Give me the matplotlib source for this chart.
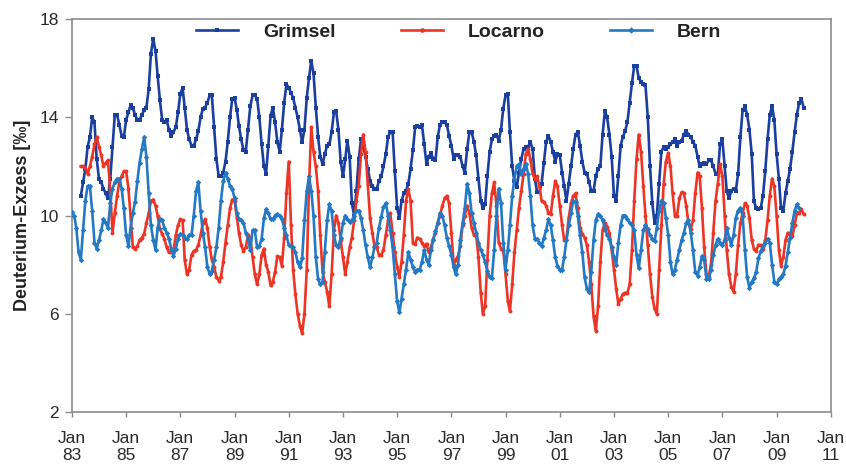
import matplotlib
matplotlib.use("Agg")
import matplotlib.pyplot as plt
import matplotlib.dates as mdates
import pandas as pd

plt.rcParams['font.family'] = ['Liberation Sans', 'DejaVu Sans']

series_names = ["Grimsel", "Locarno", "Bern"]

grimsel_start = "1983-05-01"
grimsel = [
    10.8, 11.35, 11.9, 12.8, 13.2, 14.0, 13.8, 12.3,
    11.5, 11.35, 11.1, 10.9, 10.7, 11.5, 12.8, 14.1, 14.1, 13.7, 13.25, 13.2,
    13.9, 14.2, 14.5, 14.4, 14.1, 13.9, 13.9, 14.1, 14.3, 14.4, 15.15, 16.6,
    17.2, 16.7, 15.7, 14.7, 13.9, 13.8, 13.9, 13.5, 13.25, 13.4, 13.6, 14.2,
    14.95, 15.2, 14.4, 13.5, 13.1, 12.85, 12.85, 13.1, 13.45, 14.0, 14.35, 14.4,
    14.6, 14.9, 14.9, 13.6, 12.3, 11.6, 11.6, 11.75, 12.2, 13.0, 14.0, 14.75,
    14.8, 14.3, 13.65, 13.1, 12.65, 12.6, 13.5, 14.45, 14.9, 14.9, 14.75, 14.0,
    12.9, 12.0, 11.7, 12.85, 14.05, 14.4, 13.8, 13.0, 12.6, 13.5, 14.6, 15.35,
    15.2, 15.0, 14.8, 14.4, 14.0, 13.5, 13.0, 13.5, 14.8, 15.6, 16.3, 15.8,
    14.4, 13.2, 12.4, 12.1, 12.5, 12.85, 12.9, 13.4, 14.2, 14.25, 13.5, 12.2,
    11.6, 12.3, 13.05, 12.4, 10.5, 10.0, 11.0, 12.3, 13.1, 12.85, 12.4, 11.9,
    11.4, 11.2, 11.1, 11.1, 11.4, 11.6, 12.0, 12.5, 13.2, 13.4, 13.4, 11.8,
    10.3, 9.9, 10.6, 10.9, 11.0, 11.3, 11.9, 12.65, 13.6, 13.65, 13.6, 13.7,
    12.9, 12.1, 12.4, 12.55, 12.3, 12.25, 13.2, 13.7, 13.8, 13.8, 13.7, 13.25,
    12.85, 12.3, 12.45, 12.45, 12.4, 12.0, 11.75, 12.7, 13.4, 13.4, 13.0, 12.45,
    11.5, 10.6, 10.3, 10.45, 11.6, 12.6, 13.1, 13.25, 13.3, 13.05, 13.5, 14.35,
    14.9, 14.95, 13.4, 12.0, 11.4, 11.15, 11.75, 12.3, 12.7, 12.8, 12.8, 13.0,
    12.7, 11.5, 10.95, 10.95, 11.3, 12.15, 13.0, 13.25, 13.0, 12.6, 12.2, 12.5,
    12.45, 11.75, 11.2, 10.6, 11.3, 12.0, 12.7, 13.3, 13.4, 12.85, 12.2, 11.75,
    11.7, 11.35, 11.0, 11.0, 11.6, 11.9, 12.0, 13.3, 14.25, 14.0, 13.3, 12.4,
    10.8, 10.6, 11.6, 12.85, 13.2, 13.45, 13.8, 14.6, 15.4, 16.1, 16.1, 15.6,
    15.45, 15.35, 15.3, 14.0, 12.0, 10.5, 9.7, 10.0, 11.3, 12.6, 12.8, 12.7,
    12.8, 12.9, 13.0, 13.1, 12.85, 13.0, 13.05, 13.3, 13.45, 13.3, 13.2, 13.0,
    12.85, 12.4, 12.0, 12.1, 12.15, 12.1, 12.25, 12.25, 12.0, 11.7, 11.7, 12.9,
    13.1, 12.0, 11.0, 10.7, 11.0, 11.1, 11.0, 11.7, 13.2, 14.3, 14.45, 14.1,
    13.5, 12.5, 10.6, 10.3, 10.25, 10.3, 10.8, 11.8, 13.1, 14.1, 14.45, 13.9,
    12.5, 11.5, 10.3, 10.2, 10.9, 11.4, 11.9, 12.6, 13.4, 14.1, 14.6, 14.75,
    14.4,
]

locarno_start = "1983-05-01"
locarno = [
    12.0, 12.0, 11.95, 11.7, 12.0, 12.4, 12.9, 13.2,
    12.8, 12.45, 12.0, 12.15, 12.25, 11.0, 9.3, 10.1, 10.8, 11.35, 11.6, 11.8,
    11.8, 11.1, 10.0, 8.7, 8.65, 8.75, 9.0, 9.1, 9.25, 9.7, 10.1, 10.6,
    10.65, 10.4, 10.0, 9.45, 9.25, 9.05, 8.7, 8.5, 8.5, 8.6, 9.2, 9.6,
    9.85, 9.8, 8.2, 7.6, 7.8, 8.4, 8.55, 8.6, 8.8, 9.2, 9.7, 9.85,
    9.5, 8.7, 8.2, 7.9, 7.5, 7.35, 7.5, 8.1, 8.9, 9.6, 10.3, 10.65,
    10.6, 9.9, 9.3, 8.8, 8.55, 8.7, 9.2, 9.1, 8.3, 7.6, 7.2, 7.6,
    8.4, 8.65, 8.0, 7.7, 7.15, 7.3, 7.7, 8.35, 8.3, 7.95, 9.1, 10.9,
    12.2, 9.6, 7.8, 6.8, 6.0, 5.5, 5.2, 6.0, 7.8, 11.2, 13.6, 12.6,
    12.0, 11.0, 9.2, 7.7, 7.3, 6.9, 6.3, 7.6, 9.4, 10.0, 9.7, 9.0,
    8.3, 7.6, 8.1, 8.7, 9.1, 9.8, 10.6, 11.2, 12.5, 13.3, 12.6, 11.3,
    9.9, 9.3, 8.75, 8.7, 8.4, 8.4, 8.6, 9.2, 9.8, 10.1, 9.3, 8.5,
    7.9, 7.5, 8.1, 9.2, 10.6, 11.1, 10.6, 8.9, 8.85, 9.1, 9.05, 8.9,
    8.75, 8.85, 8.5, 8.7, 9.05, 9.3, 9.7, 10.0, 10.4, 10.7, 10.8, 10.5,
    9.3, 8.0, 8.2, 8.35, 8.75, 9.6, 10.0, 10.4, 10.1, 9.5, 9.2, 9.2,
    8.3, 6.85, 6.0, 6.3, 8.2, 10.0, 10.9, 11.35, 10.4, 8.9, 8.65, 8.6,
    7.6, 6.5, 6.1, 7.2, 8.5, 9.4, 10.3, 11.0, 11.7, 12.5, 12.7, 12.3,
    11.7, 11.5, 11.6, 11.2, 10.6, 10.55, 10.4, 10.1, 10.05, 10.8, 11.4, 11.2,
    10.4, 9.6, 9.0, 9.05, 9.9, 10.5, 10.8, 10.9, 10.3, 9.5, 9.25, 9.1,
    8.8, 8.1, 7.2, 5.9, 5.3, 6.3, 8.1, 9.4, 9.7, 9.55, 9.3, 8.6,
    7.8, 7.0, 6.4, 6.6, 6.8, 6.85, 6.85, 7.2, 8.6, 10.6, 12.3, 13.3,
    12.6, 11.2, 10.0, 8.8, 7.6, 6.7, 6.2, 6.0, 7.8, 9.6, 11.3, 12.2,
    12.55, 12.0, 10.9, 10.0, 10.0, 10.7, 10.95, 10.9, 10.4, 9.7, 9.45, 9.8,
    10.9, 11.75, 11.6, 10.3, 8.7, 7.6, 7.5, 8.0, 9.3, 10.6, 11.3, 12.1,
    11.6, 10.0, 8.6, 7.6, 7.1, 6.9, 7.6, 8.8, 9.7, 10.1, 10.5, 10.4,
    9.9, 9.0, 8.65, 8.55, 8.8, 8.8, 8.65, 9.0, 9.8, 10.8, 11.5, 11.2,
    10.0, 8.6, 7.95, 8.3, 9.0, 9.3, 9.2, 9.15, 9.6, 10.1, 10.1, 10.25,
    10.05,
]

bern_start = "1983-01-01"
bern = [
    10.15, 10.0, 9.5, 8.5, 8.2, 9.4, 10.6, 11.2, 11.2, 10.2, 8.9, 8.65,
    9.0, 9.4, 9.85, 9.7, 9.5, 10.5, 11.1, 11.35, 11.5, 11.5, 11.1, 10.3,
    9.2, 8.75, 9.5, 10.1, 10.55, 11.4, 12.15, 12.7, 13.2, 12.4, 10.9, 9.6,
    9.0, 8.6, 9.5, 9.85, 9.8, 9.5, 9.3, 9.05, 8.65, 8.35, 8.65, 9.05,
    9.25, 9.2, 9.1, 9.05, 9.2, 9.2, 10.0, 11.0, 11.35, 10.2, 9.3, 8.7,
    7.9, 7.6, 7.75, 8.2, 8.7, 9.5, 10.6, 11.4, 11.75, 11.5, 11.2, 11.1,
    10.7, 10.1, 9.85, 9.8, 9.7, 9.3, 9.05, 8.6, 9.4, 9.4, 8.7, 8.75,
    9.05, 9.9, 10.25, 10.1, 9.85, 9.85, 10.0, 10.05, 10.0, 9.85, 9.5, 9.2,
    8.8, 8.75, 8.7, 8.5, 8.1, 7.9, 8.25, 9.8, 11.0, 11.6, 11.0, 10.0,
    8.3, 7.4, 7.2, 7.3, 8.5, 9.8, 10.45, 10.2, 9.2, 8.8, 8.7, 9.1,
    9.7, 10.0, 9.85, 9.75, 9.8, 10.0, 10.2, 10.2, 9.9, 9.4, 8.8, 8.3,
    7.9, 8.3, 8.7, 8.9, 9.5, 9.95, 10.35, 10.5, 10.0, 9.4, 8.7, 7.6,
    6.5, 6.05, 6.6, 7.2, 7.8, 8.5, 8.2, 7.9, 7.7, 7.8, 7.8, 8.1,
    8.6, 8.2, 8.0, 8.6, 9.0, 9.35, 9.7, 10.1, 10.0, 9.6, 9.1, 8.75,
    8.4, 7.9, 7.6, 8.0, 9.0, 9.7, 10.3, 11.3, 10.9, 10.1, 9.7, 9.3,
    8.9, 8.6, 8.4, 8.1, 7.75, 7.5, 7.45, 8.6, 10.0, 11.1, 10.5, 8.9,
    7.8, 8.6, 9.6, 10.8, 11.5, 12.0, 12.1, 11.7, 11.9, 12.1, 11.7, 10.8,
    9.6, 9.05, 9.05, 8.9, 8.75, 9.1, 9.4, 9.85, 9.6, 9.0, 8.3, 7.95,
    7.8, 7.8, 8.3, 9.0, 9.6, 10.1, 10.6, 10.55, 10.0, 9.2, 8.5, 7.5,
    7.0, 6.9, 7.7, 9.0, 9.8, 10.05, 10.0, 9.8, 9.5, 9.2, 9.05, 8.7,
    8.3, 8.0, 8.9, 9.6, 10.0, 10.0, 9.85, 9.7, 9.6, 9.4, 8.4, 7.85,
    8.6, 9.4, 9.6, 9.45, 9.2, 9.05, 8.95, 9.5, 10.2, 10.6, 10.5, 9.9,
    9.2, 8.1, 7.6, 7.8, 8.2, 8.6, 9.0, 9.3, 9.7, 9.8, 9.3, 8.6,
    7.7, 7.55, 7.9, 8.35, 8.2, 7.4, 7.4, 7.8, 8.4, 8.8, 9.05, 8.9,
    8.8, 9.0, 9.5, 9.1, 8.8, 9.2, 9.9, 10.2, 10.3, 10.0, 8.6, 7.5,
    7.05, 7.3, 7.45, 7.7, 8.25, 8.55, 8.75, 8.9, 9.05, 8.9, 8.0, 7.3,
    7.2, 7.4, 7.5, 7.6, 7.95, 8.5, 9.1, 9.7, 10.2, 10.45, 10.3,
]

y_ticks = [2, 6, 10, 14, 18]
x_tick_years = list(range(1983, 2012, 2))

colors = {"Grimsel": "#1a3f9e", "Locarno": "#ee3424", "Bern": "#2479c4"}
markers = {"Grimsel": "s", "Locarno": "o", "Bern": "D"}

data = {
    "Grimsel": (grimsel_start, grimsel),
    "Locarno": (locarno_start, locarno),
    "Bern": (bern_start, bern),
}

fig = plt.figure(figsize=(8.46, 4.67), dpi=100)
ax = fig.add_axes([0.085, 0.118, 0.897, 0.841])

for name in series_names:
    start, vals = data[name]
    dates = pd.date_range(start, periods=len(vals), freq="MS")
    ax.plot(dates, vals, color=colors[name], lw=1.9, marker=markers[name],
            markersize=2.8, markeredgewidth=0, label=name, zorder=3)

ax.set_ylim(2, 18)
ax.set_yticks(y_ticks)
ax.set_xlim(pd.Timestamp("1983-01-01"), pd.Timestamp("2011-01-01"))
ax.set_xticks([pd.Timestamp(f"{y}-01-01") for y in x_tick_years])
ax.xaxis.set_major_formatter(mdates.DateFormatter("Jan\n%y"))

for sp in ax.spines.values():
    sp.set_color("#8c8c8c")
    sp.set_linewidth(1.2)
ax.tick_params(axis="both", direction="out", width=1, color="#8c8c8c",
               labelsize=12.5, labelcolor="#2a2a2a")
ax.tick_params(axis="x", length=3.5, pad=10)
ax.tick_params(axis="y", length=5, pad=4.5)

ax.set_ylabel("Deuterium-Exzess [‰]", fontsize=13, fontweight="bold",
              color="#222222", labelpad=6)

leg = ax.legend(loc="upper left", bbox_to_anchor=(0.163, 0.99), ncol=3,
                frameon=False, prop={"weight": "bold", "size": 14},
                handlelength=2.16, columnspacing=3.35, handletextpad=1.3,
                borderpad=0, borderaxespad=0, markerscale=1.2)
for t in leg.get_texts():
    t.set_color("#222222")

fig.savefig("out.png", dpi=100)
